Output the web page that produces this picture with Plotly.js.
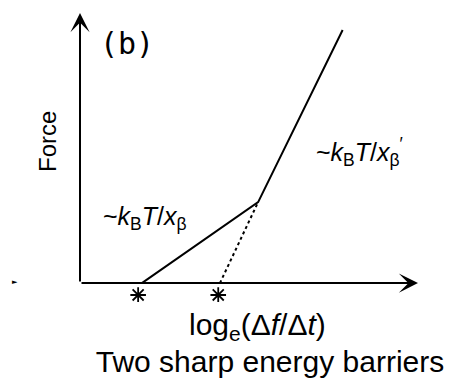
<!DOCTYPE html>
<html>
<head>
<meta charset="utf-8">
<script src="https://cdn.plot.ly/plotly-3.0.1.min.js"></script>
<style>html,body{margin:0;padding:0;background:#fff;}#chart{width:450px;height:381px;}</style>
</head>
<body>
<div id="chart"></div>
<script>
// Schematic data (arbitrary units)
const solidX = [1.83, 5.27, 7.77];
const solidY = [0, 3.0, 9.37];
const dottedX = [4.14, 5.27];
const dottedY = [0, 3.0];
const starX = [1.72, 4.09];
const starY = [-0.44, -0.44];
const axisMaxX = 10;
const axisMaxY = 10;

const titleText = 'Two sharp energy barriers';
const xLabel = 'log<sub>e</sub>(Δ<i>f</i>/Δ<i>t</i>)';
const yLabel = 'Force';
const panelLabel = '(b)';
const slope1Label = '~<i>k</i><sub>B</sub><i>T</i>/<i>x</i><sub>β</sub>';
const slope2Label = '~<i>k</i><sub>B</sub><i>T</i>/<i>x</i><sub>β</sub><sup>′</sup>';

const FONT = 'Liberation Sans, Arial, sans-serif';

// layout helpers: plot area spans pixels x 80..418, y 13..302
const PL = 80, PW = 338, PT = 13, PH = 289;
function px(p) { return (p - PL) / PW; }
function py(p) { return (PT + PH - p) / PH; }

const traces = [
  {x: solidX, y: solidY, mode: 'lines', line: {color: '#000', width: 2}, hoverinfo: 'skip'},
  {x: dottedX, y: dottedY, mode: 'lines', line: {color: '#000', width: 2, dash: 'dot'}, hoverinfo: 'skip'},
  {x: starX, y: starY, mode: 'markers', hoverinfo: 'skip',
   marker: {symbol: 'asterisk-open', size: 13, color: '#000', line: {color: '#000', width: 1.8}}}
];

const annotations = [
  // axes with arrows
  {x: axisMaxX, y: 0, ax: 0, ay: 0, xref: 'x', yref: 'y', axref: 'x', ayref: 'y',
   showarrow: true, arrowhead: 3, arrowsize: 1.6, arrowwidth: 2, arrowcolor: '#000', text: ''},
  {x: 0, y: axisMaxY, ax: 0, ay: 0, xref: 'x', yref: 'y', axref: 'x', ayref: 'y',
   showarrow: true, arrowhead: 3, arrowsize: 1.6, arrowwidth: 2, arrowcolor: '#000', text: ''},
  // labels
  {text: panelLabel, xref: 'paper', yref: 'paper', x: px(127), y: py(44), showarrow: false,
   font: {family: 'DejaVu Sans Mono, monospace', size: 30, color: '#000'}, xanchor: 'center', yanchor: 'middle'},
  {text: yLabel, xref: 'paper', yref: 'paper', x: px(47), y: py(142), showarrow: false, textangle: -90,
   font: {family: FONT, size: 24, color: '#000'}, xanchor: 'center', yanchor: 'middle'},
  {text: xLabel, xref: 'paper', yref: 'paper', x: px(257), y: py(326), showarrow: false,
   font: {family: FONT, size: 30, color: '#000'}, xanchor: 'center', yanchor: 'middle'},
  {text: slope1Label, xref: 'paper', yref: 'paper', x: px(145), y: py(218), showarrow: false,
   font: {family: FONT, size: 25, color: '#000'}, xanchor: 'center', yanchor: 'middle'},
  {text: slope2Label, xref: 'paper', yref: 'paper', x: px(359), y: py(152), showarrow: false,
   font: {family: FONT, size: 25, color: '#000'}, xanchor: 'center', yanchor: 'middle'},
  {text: '►', xref: 'paper', yref: 'paper', x: px(15), y: py(282), showarrow: false,
   font: {family: 'DejaVu Sans', size: 7, color: '#000'}, xanchor: 'center', yanchor: 'middle'}
];

const layout = {
  width: 450, height: 381,
  margin: {l: PL, r: 450 - PL - PW, t: PT, b: 381 - PT - PH},
  paper_bgcolor: '#fff', plot_bgcolor: '#fff',
  showlegend: false,
  title: {text: titleText, font: {family: FONT, size: 30, color: '#000'},
          x: 270 / 450, xanchor: 'center', xref: 'container', y: 1 - 361 / 381, yanchor: 'middle', yref: 'container'},
  xaxis: {range: [0, axisMaxX], visible: false, fixedrange: true},
  yaxis: {range: [-0.7, axisMaxY], visible: false, fixedrange: true},
  annotations: annotations
};

Plotly.newPlot('chart', traces, layout, {staticPlot: true, displayModeBar: false});
</script>
</body>
</html>
